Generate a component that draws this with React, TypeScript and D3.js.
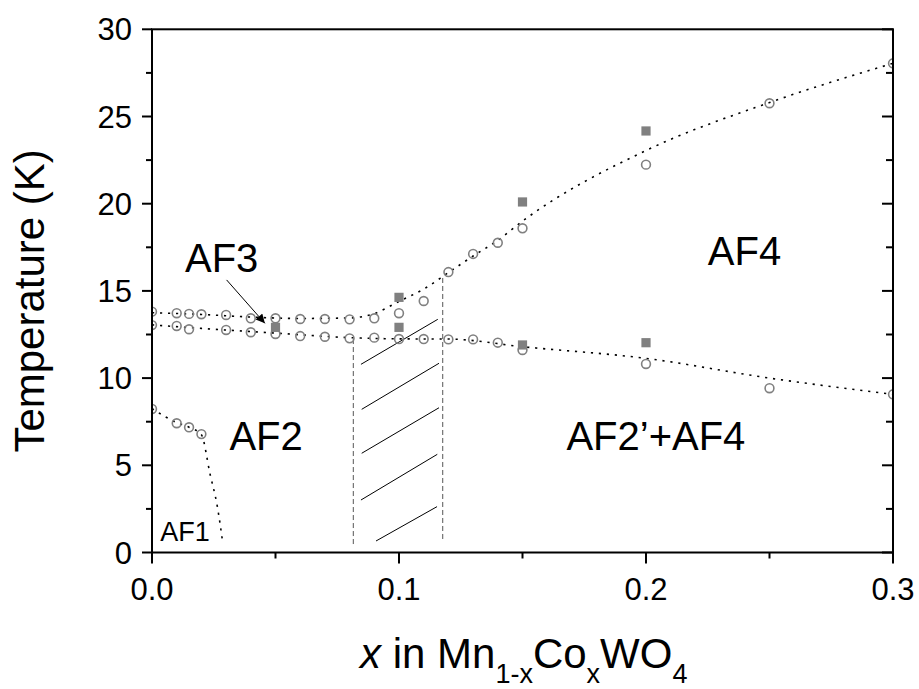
import React from 'react'
import * as d3 from 'd3'

// Data (x = Co fraction, T in K)
const upperCircX = [0, 0.01, 0.015, 0.02, 0.03, 0.04, 0.05, 0.06, 0.07, 0.08, 0.09, 0.1, 0.11, 0.12, 0.13, 0.14, 0.15, 0.2, 0.25, 0.3]
const upperCircT = [13.81, 13.72, 13.68, 13.66, 13.62, 13.43, 13.43, 13.39, 13.39, 13.37, 13.43, 13.72, 14.42, 16.08, 17.12, 17.76, 18.59, 22.24, 25.76, 28.05]
const lowerCircX = [0, 0.01, 0.015, 0.03, 0.04, 0.05, 0.06, 0.07, 0.08, 0.09, 0.1, 0.11, 0.12, 0.13, 0.14, 0.15, 0.2, 0.25, 0.3]
const lowerCircT = [13.04, 12.99, 12.8, 12.76, 12.63, 12.53, 12.41, 12.37, 12.28, 12.32, 12.24, 12.24, 12.22, 12.22, 12.03, 11.61, 10.81, 9.42, 9.07]
const af1CircX = [0, 0.01, 0.015, 0.02]
const af1CircT = [8.23, 7.41, 7.18, 6.79]
const squareX = [0.05, 0.1, 0.1, 0.15, 0.15, 0.2, 0.2]
const squareT = [12.91, 14.63, 12.91, 20.1, 11.9, 24.17, 12.03]

// guide-to-the-eye lines
const upperFitX = [0, 0.02, 0.04, 0.06, 0.08, 0.09, 0.1, 0.11, 0.12, 0.13, 0.14, 0.15, 0.2, 0.25, 0.3]
const upperFitT = [13.75, 13.65, 13.5, 13.42, 13.45, 13.7, 14.4, 15.1, 16.05, 17.0, 17.9, 19.0, 23.05, 25.8, 28.05]
const lowerFitX = [0, 0.02, 0.05, 0.08, 0.1, 0.12, 0.15, 0.2, 0.25, 0.3]
const lowerFitT = [13.05, 12.85, 12.58, 12.32, 12.25, 12.24, 11.8, 11.13, 10.0, 9.07]
const af1FitX = [0, 0.01, 0.015, 0.02, 0.0235, 0.0265, 0.0287]
const af1FitT = [8.25, 7.45, 7.18, 6.75, 4.5, 2.6, 0.5]

// hatched coexistence region
const boundX = [0.0815, 0.1177]
const boundTopT = [12.24, 15.74]
const boundBotT = [0.43, 0.62]
const hatchX1 = [0.0846, 0.0849, 0.0849, 0.0846, 0.0907]
const hatchT1 = [10.79, 8.21, 5.69, 3.01, 0.66]
const hatchX2 = [0.1157, 0.1162, 0.1162, 0.1155, 0.1154]
const hatchT2 = [13.37, 10.85, 8.3, 5.63, 2.63]

// phase labels
const phaseNames = ['AF1', 'AF2', 'AF3', 'AF4', 'AF2\u2019+AF4']
const phaseX = [0.0134, 0.0462, 0.0282, 0.2399, 0.204]
const phaseT = [0.68, 5.87, 16.08, 16.49, 5.87]
const phaseSize = [27, 40, 40, 40, 40]

const arrowX = [0.0302, 0.0457]
const arrowT = [15.63, 13.14]

const xTicks = [0, 0.1, 0.2, 0.3]
const xMinor = [0.05, 0.15, 0.25]
const yTicks = [0, 5, 10, 15, 20, 25, 30]
const yMinor = [2.5, 7.5, 12.5, 17.5, 22.5, 27.5]

const W = 919
const H = 689
const left = 152
const right = 893
const top = 29.3
const bottom = 552.5
const font = '"Liberation Sans", Arial, Helvetica, sans-serif'
const gray = '#808080'

const App = () => {
    const x = d3.scaleLinear().domain([0, 0.3]).range([left, right])
    const y = d3.scaleLinear().domain([0, 30]).range([bottom, top])

    const line = d3.line<[number, number]>()
        .x(d => x(d[0]))
        .y(d => y(d[1]))
        .curve(d3.curveMonotoneX)

    const zip = (xs: number[], ts: number[]) => xs.map((v, i) => [v, ts[i]] as [number, number])

    const dotted = { fill: 'none', stroke: '#000', strokeWidth: 1.6, strokeDasharray: '2.2,5.8' }

    return (
        <svg width={W} height={H} style={{ position: 'absolute', left: 0, top: 0, background: '#fff' }} fontFamily={font}>
            <defs>
                <clipPath id="plotclip">
                    <rect x={left} y={top} width={right - left} height={bottom - top} />
                </clipPath>
                <marker id="arrowhead" viewBox="0 0 10 10" refX="10" refY="5" markerWidth="13" markerHeight="9" markerUnits="userSpaceOnUse" orient="auto">
                    <path d="M0,0 L10,5 L0,10 z" fill="#000" />
                </marker>
            </defs>

            <g clipPath="url(#plotclip)">
                {/* fitted lines */}
                <path d={line(zip(upperFitX, upperFitT)) || ''} {...dotted} />
                <path d={line(zip(lowerFitX, lowerFitT)) || ''} {...dotted} />
                <path d={line(zip(af1FitX, af1FitT)) || ''} {...dotted} />

                {/* hatched region */}
                {boundX.map((v, i) => (
                    <line key={'b' + i} x1={x(v)} x2={x(v)} y1={y(boundTopT[i])} y2={y(boundBotT[i])}
                        stroke="#555" strokeWidth={1} strokeDasharray="5,3" />
                ))}
                {hatchX1.map((v, i) => (
                    <line key={'h' + i} x1={x(v)} y1={y(hatchT1[i])} x2={x(hatchX2[i])} y2={y(hatchT2[i])}
                        stroke="#000" strokeWidth={1} />
                ))}

                {/* markers */}
                {[zip(upperCircX, upperCircT), zip(lowerCircX, lowerCircT), zip(af1CircX, af1CircT)].map((pts, k) =>
                    pts.map((d, i) => (
                        <circle key={k + '-' + i} cx={x(d[0])} cy={y(d[1])} r={4.4}
                            fill="none" stroke={gray} strokeWidth={1.6} />
                    ))
                )}
                {squareX.map((v, i) => (
                    <rect key={'s' + i} x={x(v) - 4.6} y={y(squareT[i]) - 4.6} width={9.2} height={9.2} fill={gray} />
                ))}
            </g>

            {/* arrow to AF3 */}
            <line x1={x(arrowX[0])} y1={y(arrowT[0])} x2={x(arrowX[1])} y2={y(arrowT[1])}
                stroke="#000" strokeWidth={1} markerEnd="url(#arrowhead)" />

            {/* phase labels */}
            {phaseNames.map((n, i) => (
                <text key={n} x={x(phaseX[i])} y={y(phaseT[i])} fontSize={phaseSize[i]} textAnchor="middle">{n}</text>
            ))}

            {/* frame */}
            <rect x={left} y={top} width={right - left} height={bottom - top} fill="none" stroke="#000" strokeWidth={2} />

            {/* x axis ticks */}
            {xTicks.map(t => (
                <g key={'xt' + t}>
                    <line x1={x(t)} x2={x(t)} y1={bottom} y2={bottom + 11} stroke="#000" strokeWidth={2} />
                    <text x={x(t)} y={bottom + 47} fontSize={31} textAnchor="middle">{t.toFixed(1)}</text>
                </g>
            ))}
            {xMinor.map(t => (
                <line key={'xm' + t} x1={x(t)} x2={x(t)} y1={bottom} y2={bottom + 6} stroke="#000" strokeWidth={2} />
            ))}

            {/* y axis ticks, left outward, right inward */}
            {yTicks.map(t => (
                <g key={'yt' + t}>
                    <line x1={left - 10} x2={left} y1={y(t)} y2={y(t)} stroke="#000" strokeWidth={2} />
                    <line x1={right - 11} x2={right} y1={y(t)} y2={y(t)} stroke="#000" strokeWidth={2} />
                    <text x={left - 20} y={y(t)} dy="0.36em" fontSize={31} textAnchor="end">{t}</text>
                </g>
            ))}
            {yMinor.map(t => (
                <g key={'ym' + t}>
                    <line x1={left - 6} x2={left} y1={y(t)} y2={y(t)} stroke="#000" strokeWidth={2} />
                    <line x1={right - 7} x2={right} y1={y(t)} y2={y(t)} stroke="#000" strokeWidth={2} />
                </g>
            ))}

            {/* axis titles */}
            <text transform={`translate(44,${(top + bottom) / 2 + 10}) rotate(-90)`} fontSize={42} textAnchor="middle">Temperature (K)</text>
            <text x={360} y={668} fontSize={42}>
                <tspan fontStyle="italic">x</tspan>
                <tspan> in Mn</tspan>
                <tspan fontSize={27} dy={15}>1-x</tspan>
                <tspan dy={-15}>Co</tspan>
                <tspan fontSize={27} dy={15}>x</tspan>
                <tspan dy={-15}>WO</tspan>
                <tspan fontSize={27} dy={15}>4</tspan>
            </text>
        </svg>
    )
}

export default App
